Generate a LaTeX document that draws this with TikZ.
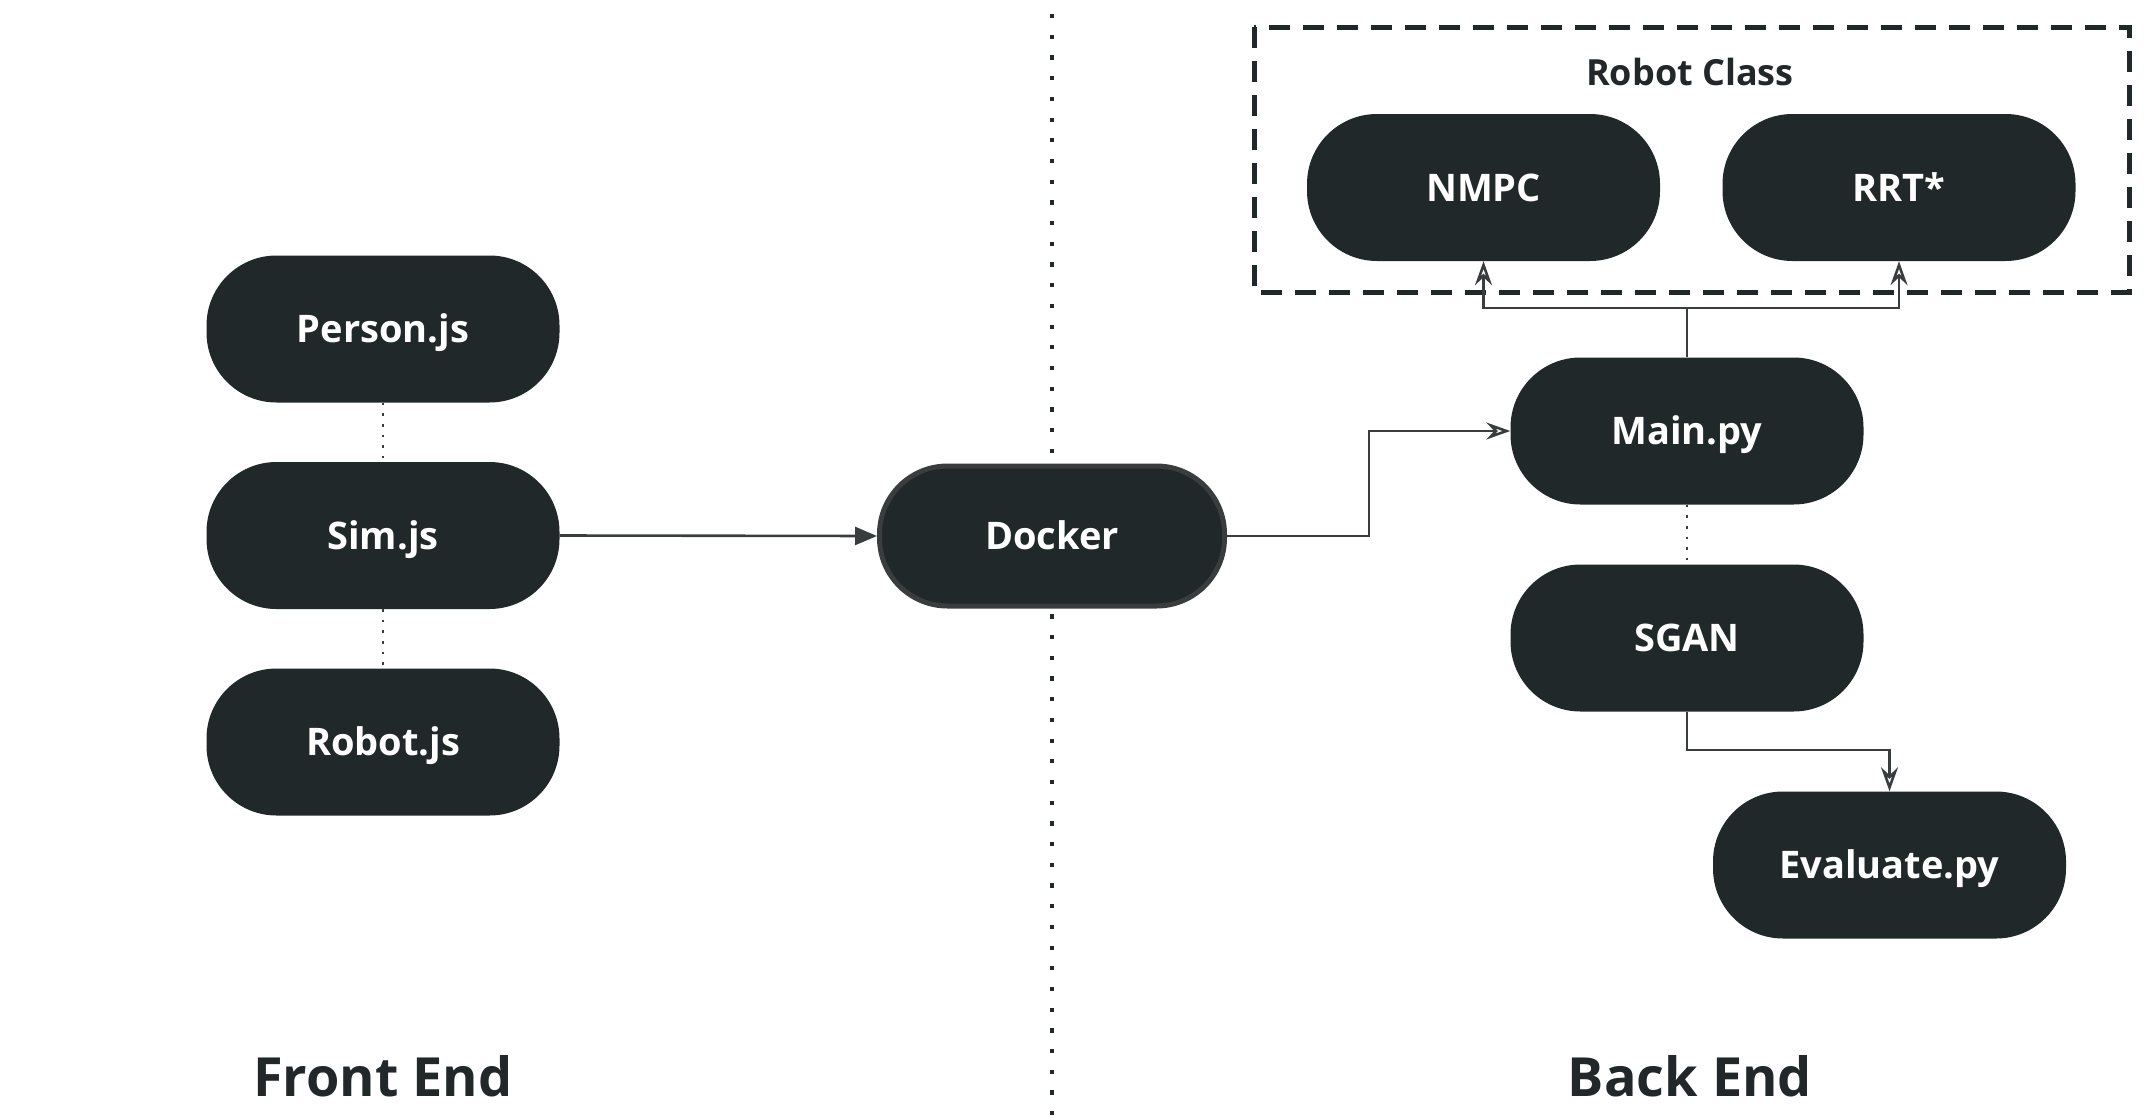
\documentclass[tikz,border=0pt]{standalone}
\usepackage{fontspec}
\setmainfont{Open Sans}
\usetikzlibrary{arrows.meta}
\definecolor{nodefill}{HTML}{212829}
\definecolor{linecol}{HTML}{3A3D3E}
\definecolor{txtdark}{HTML}{222829}
\begin{document}
\begin{tikzpicture}[x=1pt,y=-1pt,
  pill/.style={fill=nodefill, draw=none, rounded corners=70pt, minimum width=353pt, minimum height=147pt,
    inner sep=0pt, text=white, font=\bfseries\fontsize{38}{44}\selectfont, text height=27pt, text depth=0pt},
  dockerpill/.style={pill, draw=linecol, line width=5pt, minimum width=345pt, minimum height=140pt, rounded corners=68pt},
  dotlink/.style={draw=linecol, line width=2.6pt, dash pattern=on 2.6pt off 8pt},
  conn/.style={draw=linecol, line width=2.6pt},
  opentip/.style={-{Stealth[length=24pt, width=17pt, inset=8pt, open, line width=2.6pt]}},
  filltip/.style={-{Triangle[length=22pt, width=18pt]}},
  bigtitle/.style={text=txtdark, font=\bfseries\fontsize{54}{60}\selectfont, inner sep=0pt, text height=39pt, text depth=0pt}
]
\useasboundingbox (0,0) rectangle (2155,1119);

% vertical divider
\coordinate (divtop) at (1052,14);
\coordinate (divbot) at (1052,1119);
\draw[line width=4.2pt, draw=nodefill, dash pattern=on 4.2pt off 16.5pt] (divtop) -- (divbot);

% robot class box
\coordinate (rcA) at (1254,27);
\coordinate (rcB) at (2129,292);
\draw[line width=5pt, draw=nodefill, dash pattern=on 21pt off 13pt] (rcA) rectangle (rcB);
\node[text=txtdark, font=\bfseries\fontsize{36}{42}\selectfont, inner sep=0pt, text height=26pt, text depth=0pt] (rclabel) at (1690,72) {Robot Class};

% nodes
\node[pill] (person) at (383,329) {Person.js};
\node[pill] (sim) at (383,535.5) {Sim.js};
\node[pill] (robot) at (383,742) {Robot.js};
\node[dockerpill] (docker) at (1052,536) {Docker};
\node[pill] (main) at (1687,431) {Main.py};
\node[pill] (sgan) at (1687,638) {SGAN};
\node[pill] (eval) at (1889.5,865) {Evaluate.py};
\node[pill] (nmpc) at (1483.5,187.5) {NMPC};
\node[pill] (rrt) at (1899,187.5) {RRT*};

% titles
\node[bigtitle] (front) at (383,1076.5) {Front End};
\node[bigtitle] (back) at (1690,1076.5) {Back End};

% dotted links
\draw[dotlink] (person.south) -- (sim.north);
\draw[dotlink] (sim.south) -- (robot.north);
\draw[dotlink] (main.south) -- (sgan.north);

% arrows
\draw[conn, filltip] (sim.east) -- (docker.west);
\draw[conn, opentip] (docker.east) -- (1369,536) |- (main.west);
\coordinate (split) at (1687,308);
\draw[conn] (main.north) -- (split);
\draw[conn, opentip] (split) -| (nmpc.south);
\draw[conn, opentip] (split) -| (rrt.south);
\draw[conn, opentip] (sgan.south) |- (1889.5,750) -- (eval.north);
\end{tikzpicture}
\end{document}
